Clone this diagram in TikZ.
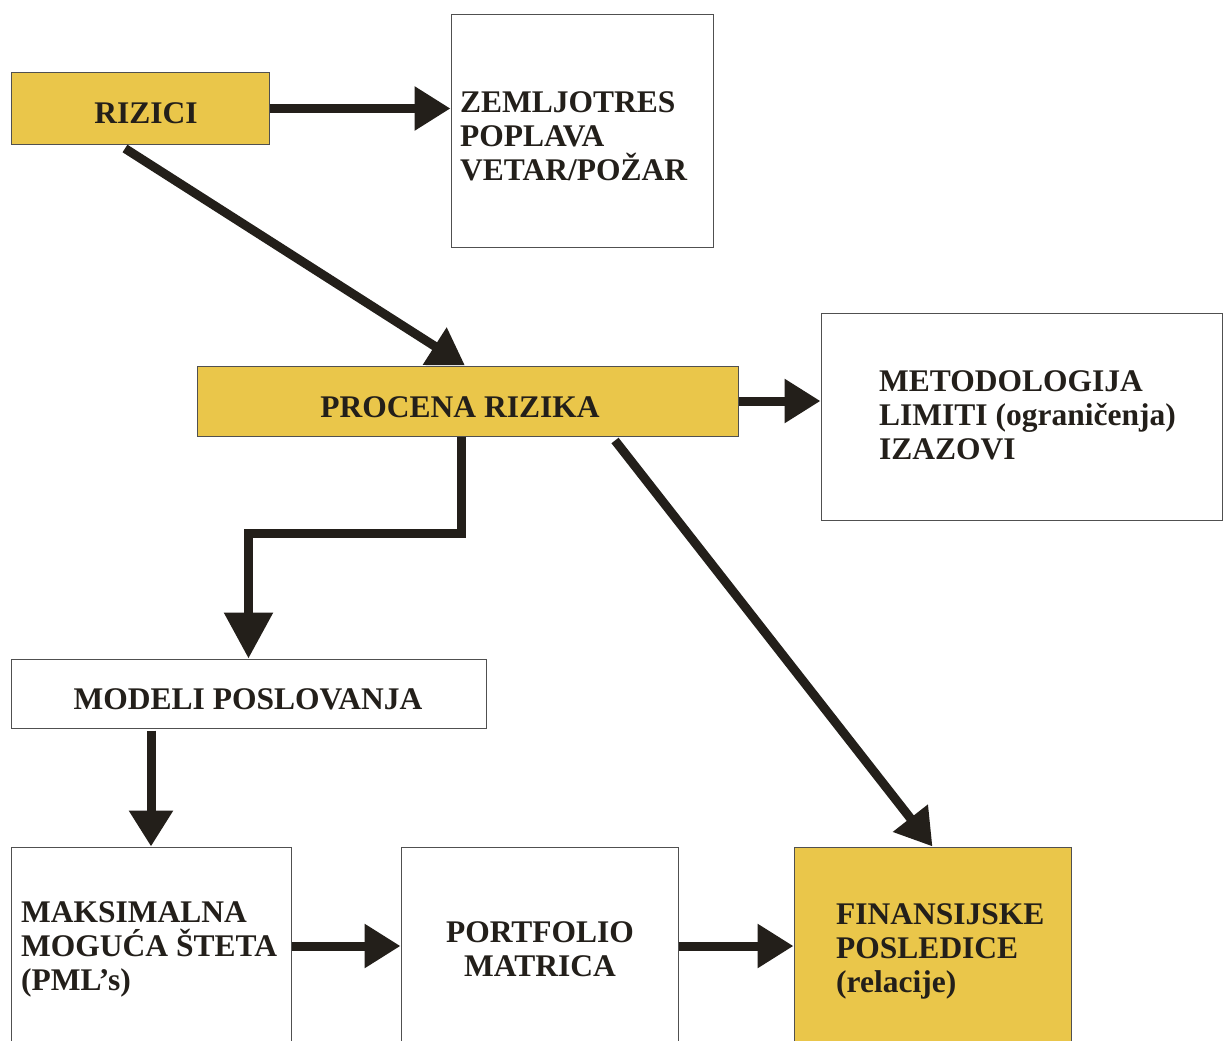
\documentclass[tikz,border=0pt]{standalone}
\usepackage{fontspec}
\setmainfont{Liberation Serif}
\usetikzlibrary{arrows.meta,calc}
\definecolor{boxyellow}{RGB}{234,198,74}
\definecolor{inkdark}{RGB}{35,31,26}
\definecolor{edgegray}{RGB}{80,80,80}
\tikzset{
  ybox/.style={draw=edgegray, line width=1pt, fill=boxyellow, inner sep=0pt, rectangle},
  wbox/.style={draw=edgegray, line width=1pt, fill=white, inner sep=0pt, rectangle},
  txt/.style={inner sep=0pt, text=inkdark, font=\bfseries\fontsize{31.5}{34}\selectfont, align=left},
  arr/.style={draw=inkdark, line width=9pt, line join=miter, -{Triangle[length=36pt,width=42pt]}},
  bigarr/.style={draw=inkdark, line width=9pt, line join=miter, -{Triangle[length=46pt,width=47pt]}}
}
\begin{document}
\begin{tikzpicture}[x=1pt,y=-1pt]
\clip (0,0) rectangle (1223,1041);
\fill[white] (0,0) rectangle (1223,1041);
% boxes
\node[ybox, minimum width=258pt, minimum height=71pt] (riz) at (140,108.5) {};
\node[wbox, minimum width=262pt, minimum height=232pt] (zem) at (582,131) {};
\node[ybox, minimum width=541pt, minimum height=70pt] (proc) at (467.5,401) {};
\node[wbox, minimum width=401pt, minimum height=207pt] (met) at (1021.5,416.5) {};
\node[wbox, minimum width=475pt, minimum height=69pt] (mod) at (248.5,693.5) {};
\node[wbox, minimum width=280pt, minimum height=198pt] (maks) at (151,946) {};
\node[wbox, minimum width=277pt, minimum height=198pt] (port) at (539.5,946) {};
\node[ybox, minimum width=277pt, minimum height=198pt] (fin) at (932.5,946) {};
% texts
\node[txt, anchor=base] (triz) at (146,123) {RIZICI};
\node[txt, anchor=north west] (tzem) at (460,91) {ZEMLJOTRES\\POPLAVA\\VETAR/POŽAR};
\node[txt, anchor=base] (tproc) at (460,417) {PROCENA RIZIKA};
\node[txt, anchor=north west] (tmet) at (879,370) {METODOLOGIJA\\LIMITI (ograničenja)\\IZAZOVI};
\node[txt, anchor=base] (tmod) at (248,709) {MODELI POSLOVANJA};
\node[txt, anchor=north west] (tmaks) at (21,901) {MAKSIMALNA\\MOGUĆA ŠTETA\\(PML’s)};
\node[txt, anchor=north, align=center] (tport) at (540,921) {PORTFOLIO\\MATRICA};
\node[txt, anchor=north west] (tfin) at (836,903) {FINANSIJSKE\\POSLEDICE\\(relacije)};
% connectors
\draw[arr] (riz.east) -- (zem.west |- riz.east);
\draw[arr] ([xshift=-15pt,yshift=-4pt]riz.south) -- ([xshift=-2.5pt]proc.north);
\draw[arr] (proc.east) -- (met.west |- proc.east);
\draw[bigarr] ([xshift=-6pt]proc.south) -- ++(0,97) -| (mod.north);
\draw[arr] ([xshift=147.5pt,yshift=-4pt]proc.south) -- (fin.north);
\draw[arr] ([yshift=-2pt]mod.south -| maks.north) -- (maks.north);
\draw[arr] (maks.east) -- (port.west);
\draw[arr] (port.east) -- (fin.west);
\end{tikzpicture}
\end{document}
